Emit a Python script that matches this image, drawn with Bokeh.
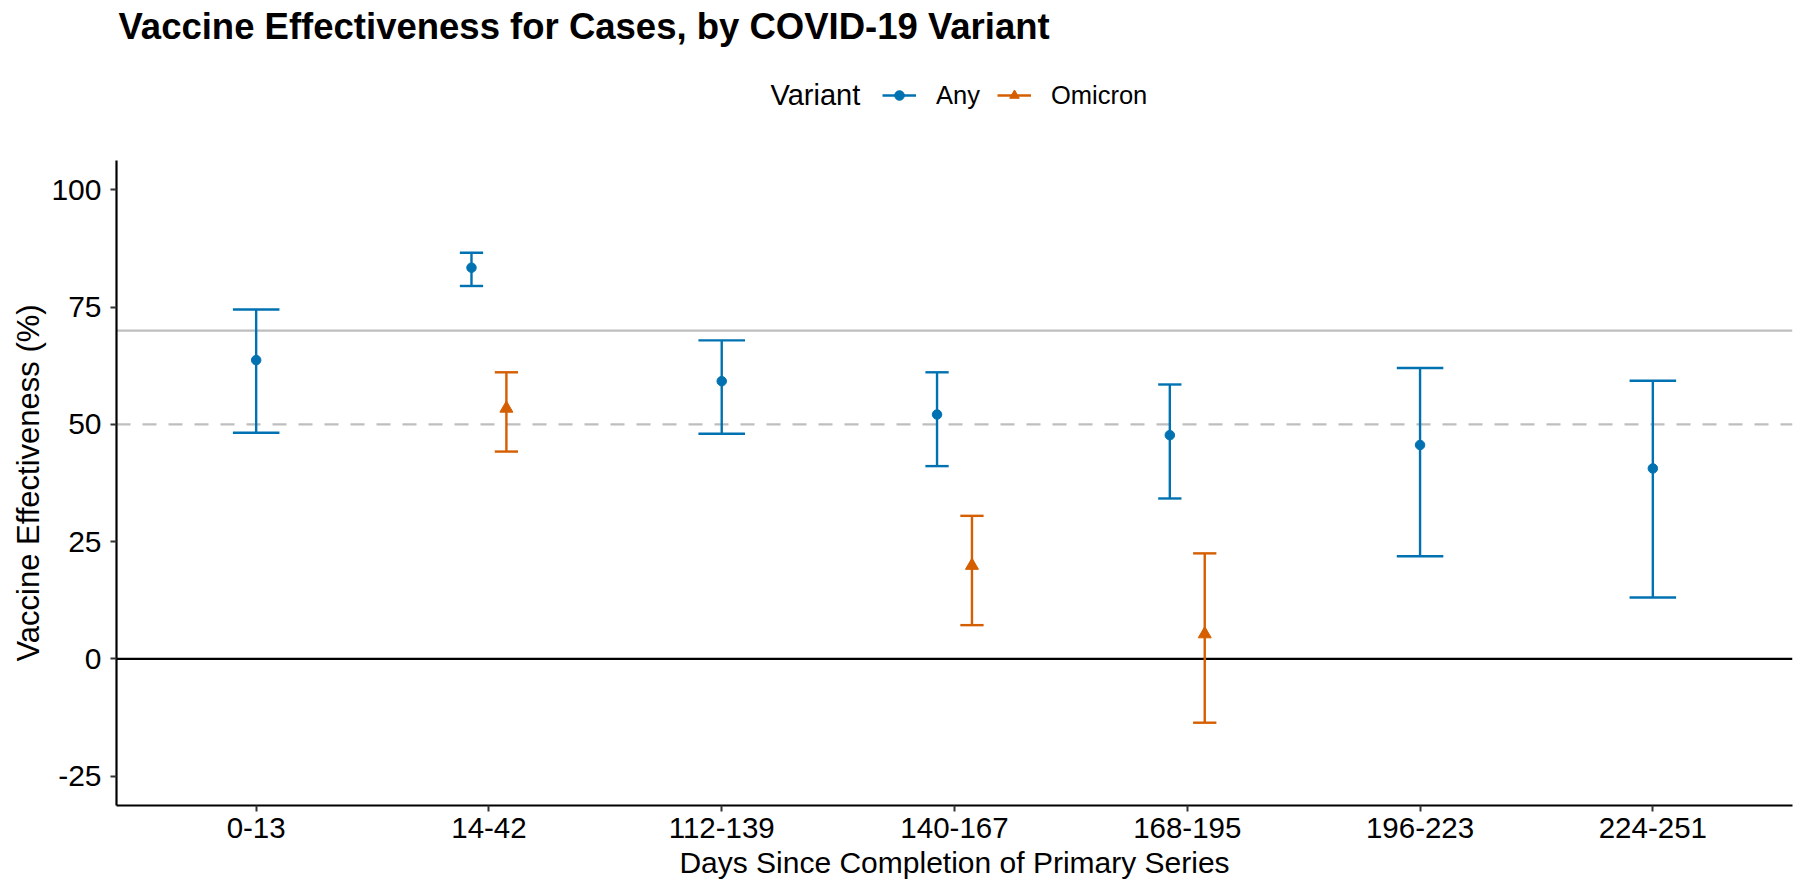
from bokeh.plotting import figure
from bokeh.layouts import column
from bokeh.models import (ColumnDataSource, Range1d, FixedTicker, Span, Label,
                          Legend, LegendItem)
from bokeh.embed import file_html
from bokeh.resources import INLINE

# ---------------- data ----------------
categories = ["0-13", "14-42", "112-139", "140-167", "168-195", "196-223", "224-251"]

any_est = [63.7, 83.4, 59.2, 52.1, 47.7, 45.6, 40.6]
any_lo = [48.2, 79.5, 48.0, 41.1, 34.2, 21.9, 13.1]
any_hi = [74.5, 86.6, 67.9, 61.1, 58.5, 62.0, 59.3]

omicron_cats = ["14-42", "140-167", "168-195"]
omicron_est = [53.4, 19.9, 5.3]
omicron_lo = [44.2, 7.2, -13.6]
omicron_hi = [61.1, 30.5, 22.5]

y_ticks = [-25, 0, 25, 50, 75, 100]
y_limits = [-25, 100]
ref_solid = 70
ref_dashed = 50
ref_zero = 0

series_names = ["Any", "Omicron"]
legend_title = "Variant"
title_text = "Vaccine Effectiveness for Cases, by COVID-19 Variant"
x_title = "Days Since Completion of Primary Series"
y_title = "Vaccine Effectiveness (%)"

# ---------------- style ----------------
BLUE = "#0072B2"
ORANGE = "#D55E00"
GREY = "#BEBEBE"
FONT = "Liberation Sans"
DODGE = 0.15
CAP = 0.2

cat_pos = {c: i + 1 for i, c in enumerate(categories)}
def positions(cats, side):
    out = []
    for c in cats:
        dodged = c in omicron_cats
        off = (DODGE / 2) * side if dodged else 0.0
        out.append(cat_pos[c] + off)
    return out

def cap_widths(cats):
    return [CAP / 2 if c in omicron_cats else CAP for c in cats]

any_x = positions(categories, -1)
any_w = cap_widths(categories)
omi_x = positions(omicron_cats, +1)
omi_w = [CAP / 2 for _ in omicron_cats]

src_any = ColumnDataSource(dict(
    x=any_x, est=any_est, lo=any_lo, hi=any_hi,
    xl=[x - w / 2 for x, w in zip(any_x, any_w)],
    xr=[x + w / 2 for x, w in zip(any_x, any_w)],
))
src_omi = ColumnDataSource(dict(
    x=omi_x, est=omicron_est, lo=omicron_lo, hi=omicron_hi,
    xl=[x - w / 2 for x, w in zip(omi_x, omi_w)],
    xr=[x + w / 2 for x, w in zip(omi_x, omi_w)],
))

W = 1799
TOP_H = 160          # header (title + legend)
MAIN_H = 882 - TOP_H
LW = 2.4

# ---------------- main chart ----------------
n = len(categories)
exp_y = 0.05 * (y_limits[1] - y_limits[0])
p = figure(width=W, height=MAIN_H,
           x_range=Range1d(0.4, n + 0.6),
           y_range=Range1d(y_limits[0] - exp_y, y_limits[1] + exp_y),
           output_backend="svg", toolbar_location=None,
           min_border_left=116, min_border_right=7,
           min_border_top=0, min_border_bottom=77)
p.outline_line_color = None
p.grid.visible = False
p.background_fill_color = "white"
p.border_fill_color = "white"

for loc, col, dash in [(ref_solid, GREY, "solid"), (ref_dashed, GREY, "14 12"),
                       (ref_zero, "black", "solid")]:
    p.add_layout(Span(location=loc, dimension="width", line_color=col,
                      line_width=2.2, line_dash=dash, level="underlay"))

def draw_series(fig, src, color, marker, size):
    v = fig.segment("x", "lo", "x", "hi", source=src, line_color=color, line_width=LW)
    fig.segment("xl", "hi", "xr", "hi", source=src, line_color=color, line_width=LW)
    fig.segment("xl", "lo", "xr", "lo", source=src, line_color=color, line_width=LW)
    pt = fig.scatter("x", "est", source=src, marker=marker, size=size,
                     fill_color=color, line_color=color)
    return v, pt

draw_series(p, src_any, BLUE, "circle", 9.5)
draw_series(p, src_omi, ORANGE, "triangle", 13)

p.xaxis.ticker = FixedTicker(ticks=list(range(1, n + 1)))
p.xaxis.major_label_overrides = {i + 1: c for i, c in enumerate(categories)}
p.yaxis.ticker = FixedTicker(ticks=y_ticks)
p.yaxis.major_label_overrides = {t: str(t) for t in y_ticks}
for ax in (p.xaxis[0], p.yaxis[0]):
    ax.axis_line_color = "black"
    ax.axis_line_width = 2.2
    ax.major_tick_line_color = "#333333"
    ax.major_tick_line_width = 2
    ax.major_tick_out = 6
    ax.major_tick_in = 0
    ax.minor_tick_line_color = None
    ax.major_label_text_font = FONT
    ax.major_label_text_color = "black"
    ax.axis_label_text_font = FONT
    ax.axis_label_text_font_style = "normal"
    ax.axis_label_text_color = "black"
p.xaxis.major_label_text_font_size = "29.5px"
p.yaxis.major_label_text_font_size = "30px"
p.xaxis.major_label_standoff = 6
p.yaxis.major_label_standoff = 9
p.yaxis.axis_label = y_title
p.yaxis.axis_label_text_font_size = "31px"
p.yaxis.axis_label_standoff = 2
p.xaxis.axis_label = x_title
p.xaxis.axis_label_text_font_size = "30px"
p.xaxis.axis_label_standoff = 5

# ---------------- header: title + legend ----------------
# (its frame is aligned with the main chart's frame by the column layout)
h = figure(width=W, height=TOP_H, x_range=Range1d(1000, 1001),
           y_range=Range1d(1000, 1001), output_backend="svg",
           toolbar_location=None, x_axis_type=None, y_axis_type=None,
           min_border_left=0, min_border_right=0, min_border_top=0,
           min_border_bottom=0)
h.outline_line_color = None
h.grid.visible = False
h.background_fill_color = "white"
h.border_fill_color = "white"

# renderers used only as legend keys (their data lies outside this header's ranges)
k_any = draw_series(h, src_any, BLUE, "circle", 9.5)
k_omi = draw_series(h, src_omi, ORANGE, "triangle", 13)

h.add_layout(Label(x=2, y=TOP_H - 38 + 12, x_units="screen", y_units="screen",
                   text=title_text, text_font=FONT, text_font_size="36.5px",
                   text_font_style="bold", text_align="left",
                   text_baseline="alphabetic", text_color="black"))
h.add_layout(Label(x=654, y=TOP_H - 105 + 11, x_units="screen", y_units="screen",
                   text=legend_title, text_font=FONT, text_font_size="29px",
                   text_align="left", text_baseline="alphabetic", text_color="black"))

legend = Legend(items=[LegendItem(label=series_names[0], renderers=list(k_any)),
                       LegendItem(label=series_names[1], renderers=list(k_omi))],
                orientation="horizontal",
                location=(766, TOP_H - 110),
                glyph_width=34, glyph_height=24, label_height=30,
                label_standoff=20, spacing=17,
                padding=0, margin=0,
                border_line_color=None, background_fill_alpha=0)
legend.label_text_font = FONT
legend.label_text_font_size = "25.5px"
legend.label_text_color = "black"
h.add_layout(legend, "center")

layout = column(h, p, spacing=0)
open("out.html", "w").write(file_html(layout, INLINE))
